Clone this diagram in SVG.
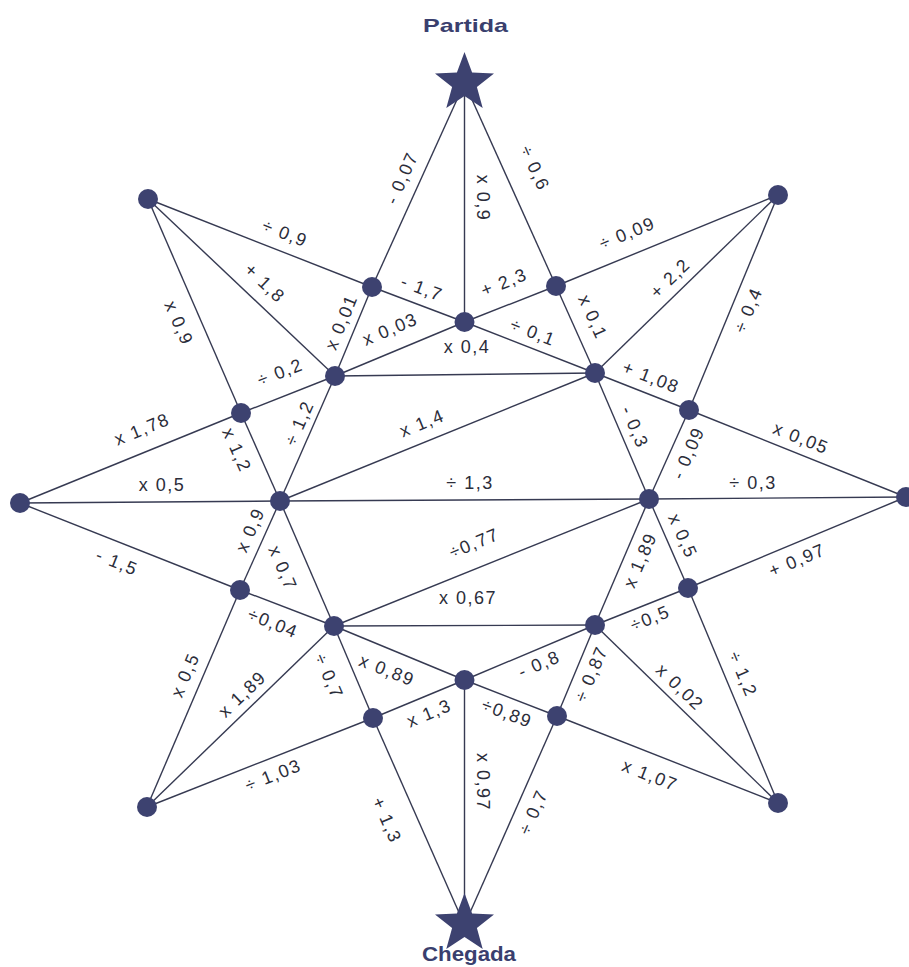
<svg xmlns="http://www.w3.org/2000/svg" xmlns:xlink="http://www.w3.org/1999/xlink" width="909" height="967" viewBox="0 0 909 967">
<style>
.e{stroke:#363a52;stroke-width:1.4;fill:none}
.n{fill:#3d4270}
.s{fill:#3d4270}
.l{font-family:"Liberation Sans",Arial,sans-serif;font-size:18px;letter-spacing:1.5px;fill:#2b2d3a;text-anchor:middle}
.t{font-family:"Liberation Sans",Arial,sans-serif;font-weight:bold;fill:#3a3f6e;text-anchor:middle}
</style>
<defs>
<polygon id="star" points="0,-31 7.6,-10.5 29.5,-9.6 12.4,4 18.2,25.1 0,13 -18.2,25.1 -12.4,4 -29.5,-9.6 -7.6,-10.5"/>
</defs>
<rect width="909" height="967" fill="#ffffff"/>
<g id="connectors">
<line class="e" x1="464.5" y1="83" x2="372" y2="287"/>
<line class="e" x1="464.5" y1="83" x2="464.5" y2="322"/>
<line class="e" x1="464.5" y1="83" x2="556" y2="286"/>
<line class="e" x1="148" y1="199" x2="372" y2="287"/>
<line class="e" x1="148" y1="199" x2="335" y2="376"/>
<line class="e" x1="148" y1="199" x2="241" y2="413"/>
<line class="e" x1="778" y1="195" x2="556" y2="286"/>
<line class="e" x1="778" y1="195" x2="595" y2="373"/>
<line class="e" x1="778" y1="195" x2="689" y2="410"/>
<line class="e" x1="372" y1="287" x2="464.5" y2="322"/>
<line class="e" x1="464.5" y1="322" x2="556" y2="286"/>
<line class="e" x1="372" y1="287" x2="335" y2="376"/>
<line class="e" x1="335" y1="376" x2="464.5" y2="322"/>
<line class="e" x1="464.5" y1="322" x2="595" y2="373"/>
<line class="e" x1="556" y1="286" x2="595" y2="373"/>
<line class="e" x1="335" y1="376" x2="595" y2="373"/>
<line class="e" x1="20" y1="503" x2="241" y2="413"/>
<line class="e" x1="241" y1="413" x2="335" y2="376"/>
<line class="e" x1="241" y1="413" x2="280" y2="501"/>
<line class="e" x1="335" y1="376" x2="280" y2="501"/>
<line class="e" x1="280" y1="501" x2="595" y2="373"/>
<line class="e" x1="595" y1="373" x2="689" y2="410"/>
<line class="e" x1="689" y1="410" x2="906" y2="497"/>
<line class="e" x1="595" y1="373" x2="649" y2="499"/>
<line class="e" x1="649" y1="499" x2="689" y2="410"/>
<line class="e" x1="20" y1="503" x2="280" y2="501"/>
<line class="e" x1="280" y1="501" x2="649" y2="499"/>
<line class="e" x1="649" y1="499" x2="906" y2="497"/>
<line class="e" x1="20" y1="503" x2="240" y2="590"/>
<line class="e" x1="280" y1="501" x2="240" y2="590"/>
<line class="e" x1="280" y1="501" x2="334" y2="626"/>
<line class="e" x1="334" y1="626" x2="649" y2="499"/>
<line class="e" x1="334" y1="626" x2="595" y2="625"/>
<line class="e" x1="595" y1="625" x2="649" y2="499"/>
<line class="e" x1="649" y1="499" x2="688" y2="588"/>
<line class="e" x1="688" y1="588" x2="906" y2="497"/>
<line class="e" x1="595" y1="625" x2="688" y2="588"/>
<line class="e" x1="240" y1="590" x2="334" y2="626"/>
<line class="e" x1="147" y1="807" x2="240" y2="590"/>
<line class="e" x1="147" y1="807" x2="334" y2="626"/>
<line class="e" x1="334" y1="626" x2="373" y2="718"/>
<line class="e" x1="334" y1="626" x2="464.5" y2="680"/>
<line class="e" x1="373" y1="718" x2="464.5" y2="680"/>
<line class="e" x1="147" y1="807" x2="373" y2="718"/>
<line class="e" x1="373" y1="718" x2="464.5" y2="925"/>
<line class="e" x1="464.5" y1="680" x2="595" y2="625"/>
<line class="e" x1="464.5" y1="680" x2="557" y2="716"/>
<line class="e" x1="557" y1="716" x2="595" y2="625"/>
<line class="e" x1="595" y1="625" x2="778" y2="803"/>
<line class="e" x1="688" y1="588" x2="778" y2="803"/>
<line class="e" x1="557" y1="716" x2="778" y2="803"/>
<line class="e" x1="464.5" y1="680" x2="464.5" y2="925"/>
<line class="e" x1="557" y1="716" x2="464.5" y2="925"/>
</g>
<g id="labels">
<text class="l" transform="translate(401.7,178) rotate(-65.7)" dy="0.35em">- 0,07</text>
<text class="l" transform="translate(483,198) rotate(90)" dy="0.35em">x 0,9</text>
<text class="l" transform="translate(535,168) rotate(65.6)" dy="0.35em">÷ 0,6</text>
<text class="l" transform="translate(285,233) rotate(21.4)" dy="0.35em">÷ 0,9</text>
<text class="l" transform="translate(265,283) rotate(43.4)" dy="0.35em">+ 1,8</text>
<text class="l" transform="translate(179,323) rotate(66.5)" dy="0.35em">x 0,9</text>
<text class="l" transform="translate(142,429) rotate(-22.2)" dy="0.35em">x 1,78</text>
<text class="l" transform="translate(280,372) rotate(-21.5)" dy="0.35em">÷ 0,2</text>
<text class="l" transform="translate(237,450) rotate(66.1)" dy="0.35em">x 1,2</text>
<text class="l" transform="translate(299,423) rotate(-66.2)" dy="0.35em">÷ 1,2</text>
<text class="l" transform="translate(341,322) rotate(-67.4)" dy="0.35em">x 0,01</text>
<text class="l" transform="translate(390,329) rotate(-22.6)" dy="0.35em">x 0,03</text>
<text class="l" transform="translate(422,288) rotate(20.6)" dy="0.35em">- 1,7</text>
<text class="l" transform="translate(504,282) rotate(-21.6)" dy="0.35em">+ 2,3</text>
<text class="l" transform="translate(467,347)" dy="0.35em">x 0,4</text>
<text class="l" transform="translate(533,332) rotate(21.4)" dy="0.35em">÷ 0,1</text>
<text class="l" transform="translate(593,317) rotate(65.8)" dy="0.35em">x 0,1</text>
<text class="l" transform="translate(627,233) rotate(-22.3)" dy="0.35em">÷ 0,09</text>
<text class="l" transform="translate(670,278) rotate(-44.2)" dy="0.35em">+ 2,2</text>
<text class="l" transform="translate(748,310) rotate(-67.5)" dy="0.35em">÷ 0,4</text>
<text class="l" transform="translate(651,377) rotate(21.5)" dy="0.35em">+ 1,08</text>
<text class="l" transform="translate(801,438) rotate(21.8)" dy="0.35em">x 0,05</text>
<text class="l" transform="translate(635,427) rotate(66.8)" dy="0.35em">- 0,3</text>
<text class="l" transform="translate(688,453) rotate(-65.8)" dy="0.35em">- 0,09</text>
<text class="l" transform="translate(753,483)" dy="0.35em">÷ 0,3</text>
<text class="l" transform="translate(162,485)" dy="0.35em">x 0,5</text>
<text class="l" transform="translate(470,483)" dy="0.35em">÷ 1,3</text>
<text class="l" transform="translate(422,423) rotate(-22.1)" dy="0.35em">x 1,4</text>
<text class="l" transform="translate(117,562) rotate(21.6)" dy="0.35em">- 1,5</text>
<text class="l" transform="translate(250,530) rotate(-65.8)" dy="0.35em">x 0,9</text>
<text class="l" transform="translate(283,568) rotate(67)" dy="0.35em">x 0,7</text>
<text class="l" transform="translate(474,543) rotate(-22.3)" dy="0.35em">÷0,77</text>
<text class="l" transform="translate(468,598)" dy="0.35em">x 0,67</text>
<text class="l" transform="translate(640,560) rotate(-66.8)" dy="0.35em">x 1,89</text>
<text class="l" transform="translate(683,536) rotate(66.3)" dy="0.35em">x 0,5</text>
<text class="l" transform="translate(797,560) rotate(-22.7)" dy="0.35em">+ 0,97</text>
<text class="l" transform="translate(650,618) rotate(-21.7)" dy="0.35em">÷0,5</text>
<text class="l" transform="translate(273,623) rotate(22)" dy="0.35em">÷0,04</text>
<text class="l" transform="translate(185,675) rotate(-66.8)" dy="0.35em">x 0,5</text>
<text class="l" transform="translate(242,694) rotate(-43.7)" dy="0.35em">x 1,89</text>
<text class="l" transform="translate(329,676) rotate(66.6)" dy="0.35em">÷ 0,7</text>
<text class="l" transform="translate(387,670) rotate(21.6)" dy="0.35em">x 0,89</text>
<text class="l" transform="translate(429,713) rotate(-22.4)" dy="0.35em">x 1,3</text>
<text class="l" transform="translate(273,775) rotate(-21.5)" dy="0.35em">÷ 1,03</text>
<text class="l" transform="translate(387,820) rotate(66.3)" dy="0.35em">+ 1,3</text>
<text class="l" transform="translate(539,664) rotate(-22.9)" dy="0.35em">- 0,8</text>
<text class="l" transform="translate(507,713) rotate(20.8)" dy="0.35em">÷0,89</text>
<text class="l" transform="translate(591,674) rotate(-67.1)" dy="0.35em">÷ 0,87</text>
<text class="l" transform="translate(680,687) rotate(44.2)" dy="0.35em">x 0,02</text>
<text class="l" transform="translate(743,674) rotate(67.3)" dy="0.35em">÷ 1,2</text>
<text class="l" transform="translate(650,775) rotate(21.7)" dy="0.35em">x 1,07</text>
<text class="l" transform="translate(483,782) rotate(90)" dy="0.35em">x 0,97</text>
<text class="l" transform="translate(533,812) rotate(-66.1)" dy="0.35em">÷ 0,7</text>
</g>
<g id="start"><use xlink:href="#star" href="#star" class="s" x="464.5" y="83"/><text class="t" x="465.5" y="32" font-size="19" textLength="85" lengthAdjust="spacingAndGlyphs">Partida</text></g>
<g id="finish"><use xlink:href="#star" href="#star" class="s" x="464.5" y="924"/><text class="t" x="469" y="961" font-size="20" textLength="94" lengthAdjust="spacingAndGlyphs">Chegada</text></g>
<g id="n-tl"><circle class="n" cx="148" cy="199" r="10"/></g>
<g id="n-tr"><circle class="n" cx="778" cy="195" r="10"/></g>
<g id="n-l"><circle class="n" cx="20" cy="503" r="10"/></g>
<g id="n-r"><circle class="n" cx="906" cy="497" r="10"/></g>
<g id="n-bl"><circle class="n" cx="147" cy="807" r="10"/></g>
<g id="n-br"><circle class="n" cx="778" cy="803" r="10"/></g>
<g id="n-a"><circle class="n" cx="372" cy="287" r="10"/></g>
<g id="n-b"><circle class="n" cx="464.5" cy="322" r="10"/></g>
<g id="n-c"><circle class="n" cx="556" cy="286" r="10"/></g>
<g id="n-d"><circle class="n" cx="335" cy="376" r="10"/></g>
<g id="n-e"><circle class="n" cx="595" cy="373" r="10"/></g>
<g id="n-f"><circle class="n" cx="241" cy="413" r="10"/></g>
<g id="n-g"><circle class="n" cx="689" cy="410" r="10"/></g>
<g id="n-h"><circle class="n" cx="280" cy="501" r="10"/></g>
<g id="n-i"><circle class="n" cx="649" cy="499" r="10"/></g>
<g id="n-j"><circle class="n" cx="240" cy="590" r="10"/></g>
<g id="n-k"><circle class="n" cx="688" cy="588" r="10"/></g>
<g id="n-l2"><circle class="n" cx="334" cy="626" r="10"/></g>
<g id="n-m"><circle class="n" cx="595" cy="625" r="10"/></g>
<g id="n-n"><circle class="n" cx="464.5" cy="680" r="10"/></g>
<g id="n-p"><circle class="n" cx="373" cy="718" r="10"/></g>
<g id="n-q"><circle class="n" cx="557" cy="716" r="10"/></g>
</svg>
